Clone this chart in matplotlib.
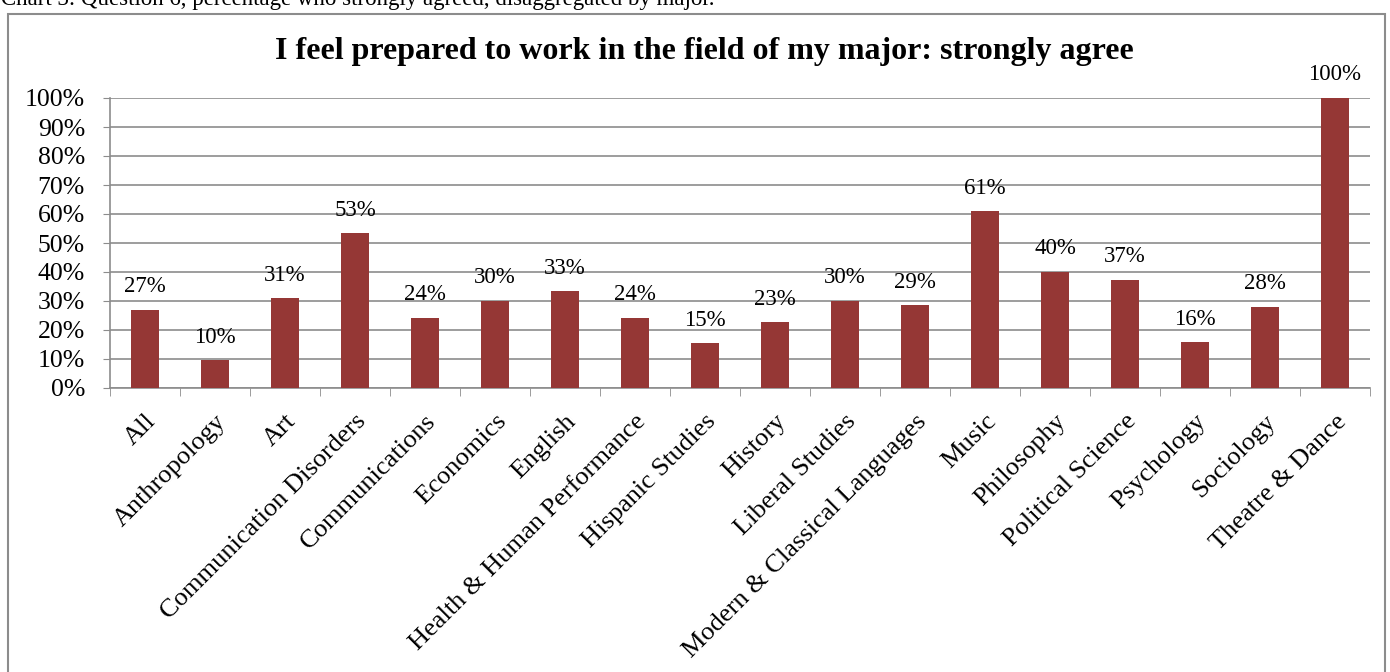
import matplotlib.pyplot as plt
from matplotlib.patches import Rectangle
import numpy as np

plt.rcParams['font.family'] = ['Liberation Serif', 'DejaVu Serif']

# majors and share who strongly agreed (%)
majors = ["All", "Anthropology", "Art", "Communication Disorders", "Communications",
          "Economics", "English", "Health & Human Performance", "Hispanic Studies",
          "History", "Liberal Studies", "Modern & Classical Languages", "Music",
          "Philosophy", "Political Science", "Psychology", "Sociology", "Theatre & Dance"]
values = [27, 9.5, 31, 53.3, 24.2, 30, 33.3, 24.2, 15.4, 22.7, 30, 28.6, 60.9,
          40, 37.3, 15.8, 28, 100]
yticks = list(range(0, 101, 10))

fig = plt.figure(figsize=(13.9, 6.72), dpi=100)
ax = fig.add_axes([110 / 1390, 1 - 388 / 672, 1260 / 1390, 290 / 672])

x = np.arange(len(majors))
ax.bar(x, values, width=0.4, color="#953735", zorder=3)

for xi, v in zip(x, values):
    ax.annotate(f"{round(v)}%", (xi, v), xytext=(0, 9), textcoords="offset points",
                ha="center", va="bottom", fontsize=16.5)

ax.set_xlim(-0.5, len(majors) - 0.5)
ax.set_ylim(0, 100)
ax.set_yticks(yticks)
ax.set_yticklabels([f"{t}%" for t in yticks], fontsize=18.5)
ax.yaxis.grid(True, color="#8c8c8c", linewidth=1.2, zorder=0)
ax.tick_params(axis="y", length=5, color="#8c8c8c", pad=13)

# category labels rotated, ticks between categories
ax.set_xticks(x)
ax.set_xticklabels(majors, rotation=45, ha="right", rotation_mode="anchor", fontsize=19)
ax.tick_params(axis="x", length=0, pad=16)
ax.set_xticks(np.arange(-0.5, len(majors), 1), minor=True)
ax.tick_params(axis="x", which="minor", length=6, color="#8c8c8c")

for s in ["top", "right"]:
    ax.spines[s].set_visible(False)
for s in ["left", "bottom"]:
    ax.spines[s].set_color("#8c8c8c")
    ax.spines[s].set_linewidth(1.2)

fig.text(704 / 1390, 1 - 52 / 672,
         "I feel prepared to work in the field of my major: strongly agree",
         ha="center", va="center", fontsize=23, fontweight="bold")

fig.text(1 / 1390, 1 - 5 / 672,
         "Chart 3: Question 6, percentage who strongly agreed, disaggregated by major.",
         ha="left", va="baseline", fontsize=16.5)

fig.patches.append(Rectangle((8 / 1390, -0.01), 1377 / 1390, 1 - 14 / 672 + 0.01,
                             transform=fig.transFigure, fill=False,
                             edgecolor="#8c8c8c", linewidth=1.5))

fig.savefig("out.png", dpi=100)
